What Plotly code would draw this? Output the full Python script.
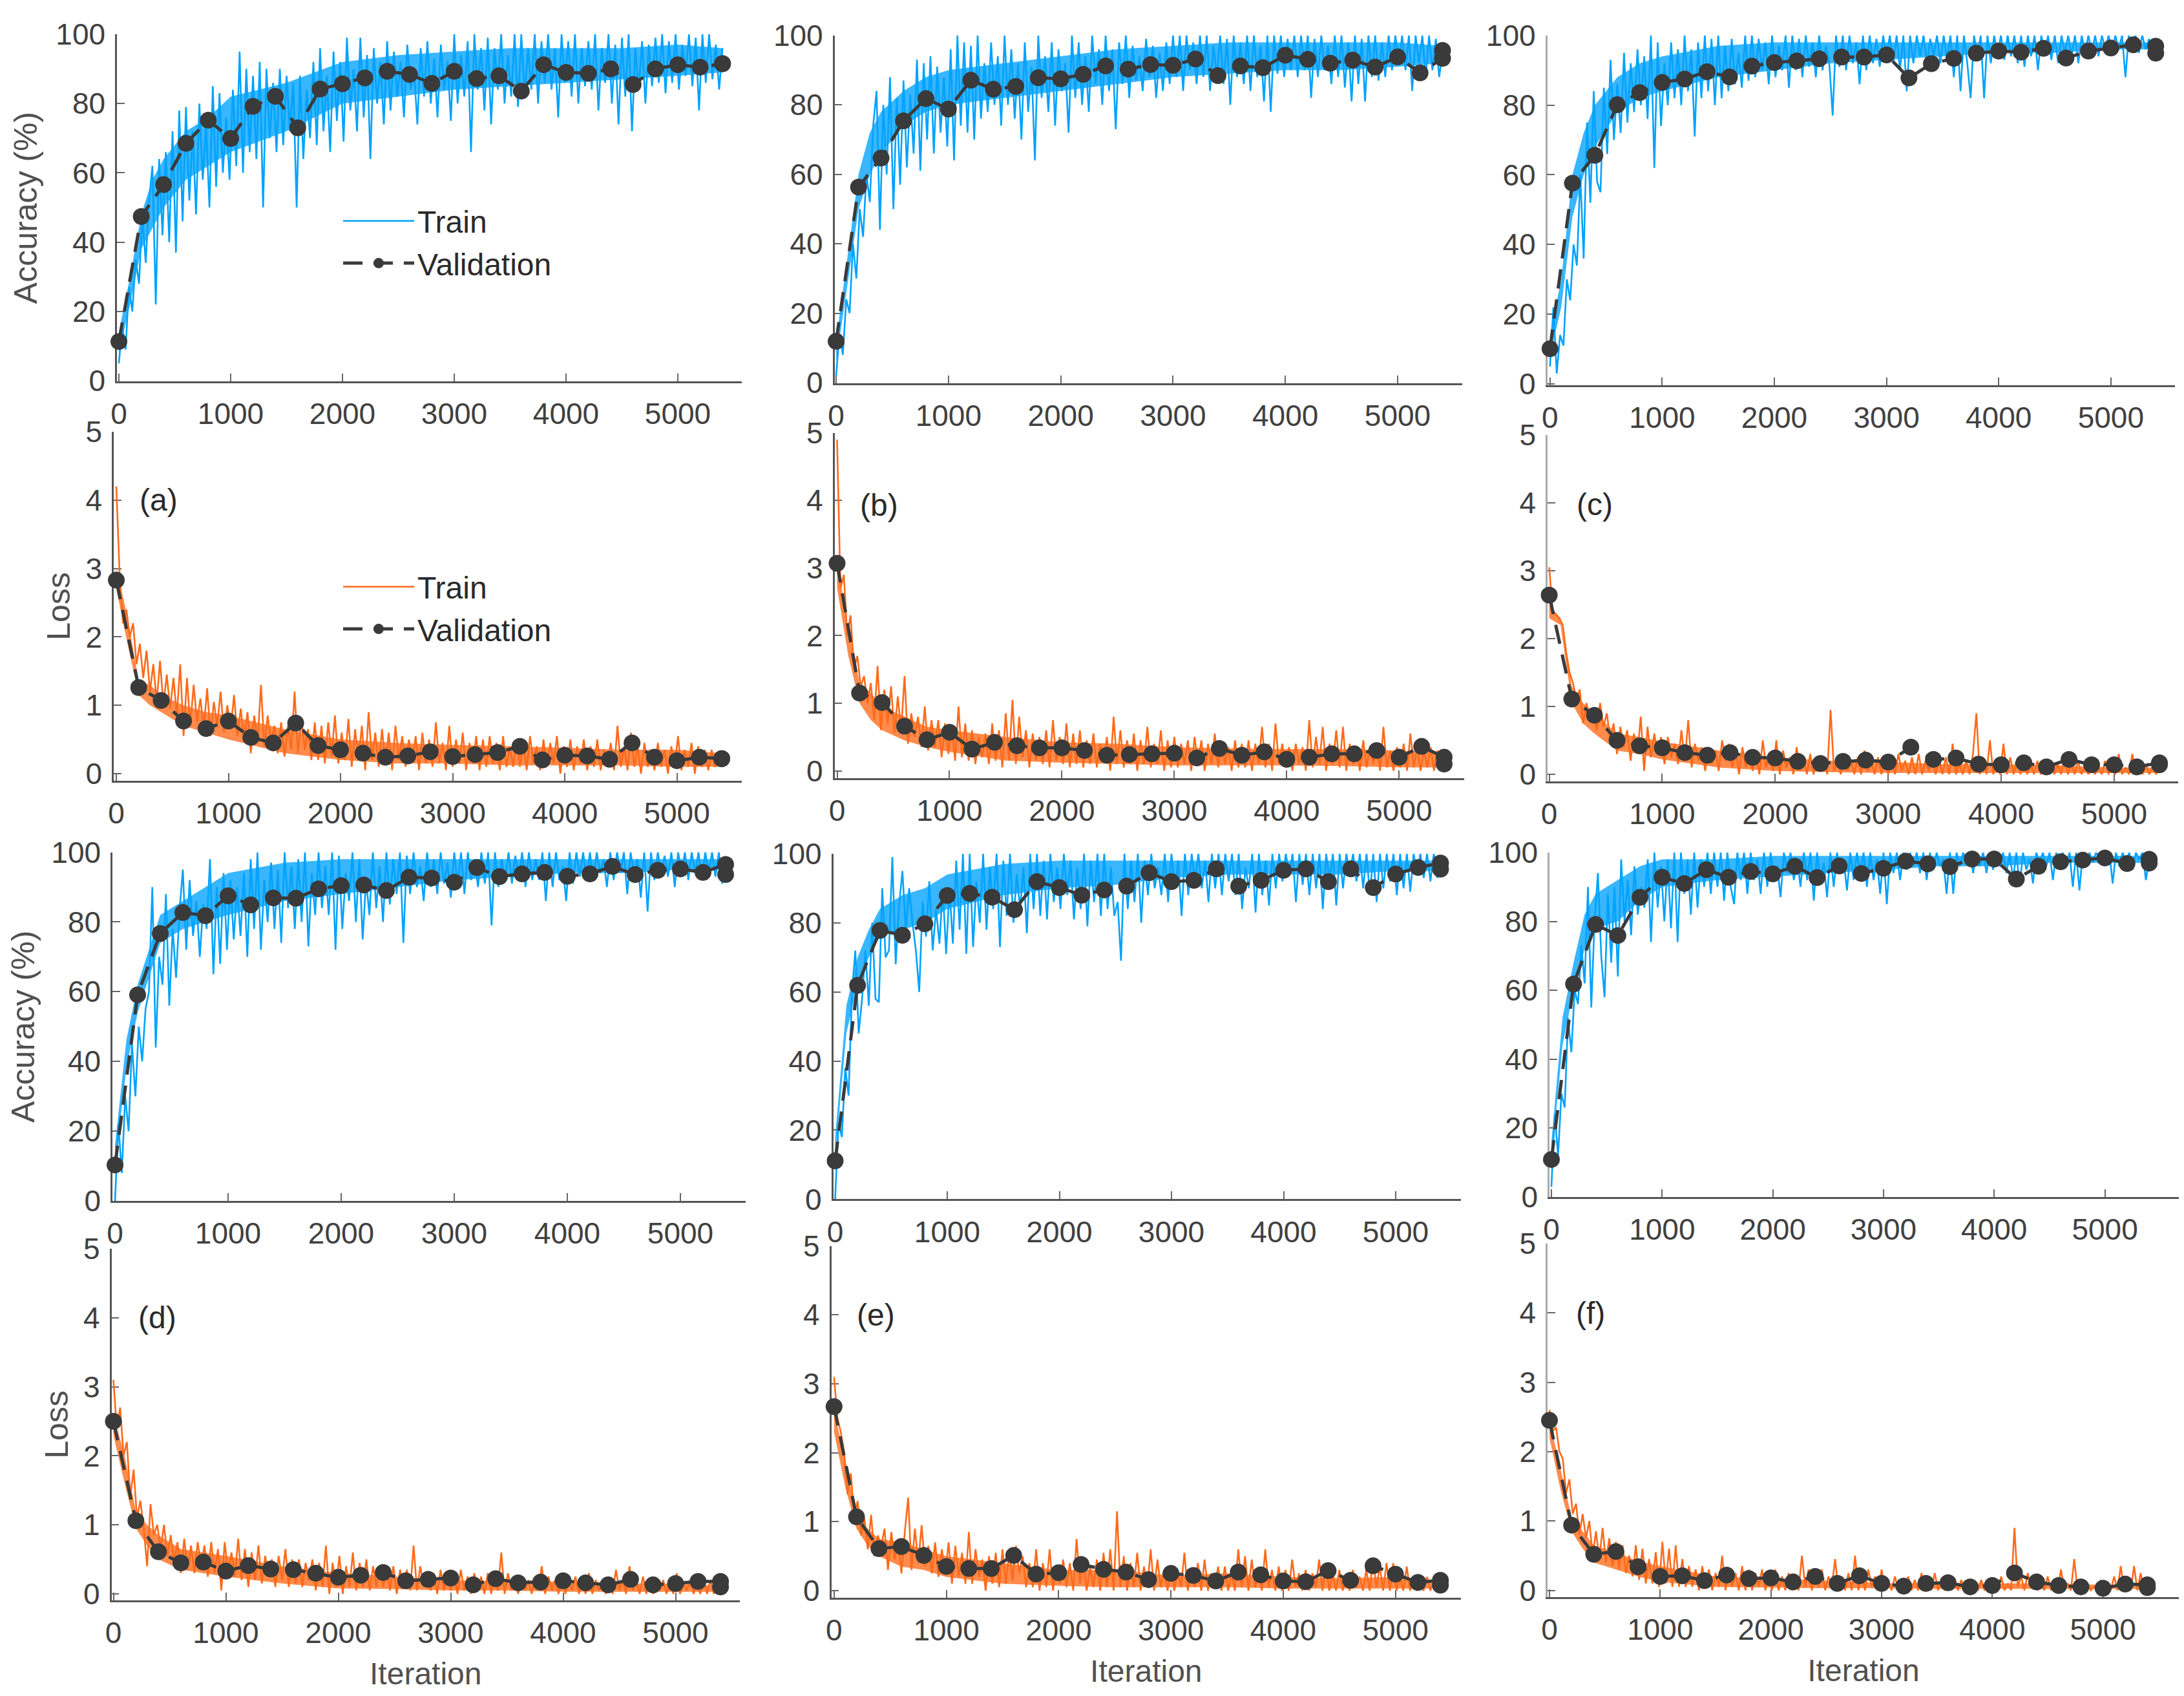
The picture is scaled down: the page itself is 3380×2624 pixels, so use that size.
import numpy as np
import plotly.graph_objects as go

# iterations of the validation runs (5400 comes twice, final validation)
val_iters = list(range(0, 5401, 200)) + [5400]

val_acc_a = [11.3,47.4,56.6,68.5,75.2,69.9,79.2,82.1,73,84.2,85.7,87.4,89.3,88.4,85.8,89.3,87.2,88,83.6,91.2,89,88.7,90,85.5,90,91.2,90.5,91.5,91.5]
val_loss_a = [2.83,1.26,1.07,.77,.66,.77,.53,.45,.74,.41,.35,.30,.24,.26,.32,.25,.28,.31,.40,.20,.27,.26,.21,.45,.24,.19,.24,.22,.22]
val_acc_b = [11.9,56.3,64.7,75.4,81.8,78.8,87.1,84.5,85.3,87.8,87.5,88.8,91.2,90.3,91.6,91.4,93.2,88.4,91.2,90.7,94.3,93.1,92,92.9,90.9,93.8,89.2,93.4,95.7]
val_loss_b = [3.07,1.15,1.01,.66,.46,.57,.32,.42,.37,.34,.34,.30,.23,.24,.25,.26,.19,.33,.23,.28,.17,.20,.25,.25,.30,.20,.36,.20,.10]
val_acc_c = [10.1,57.6,65.6,80.1,83.6,86.5,87.5,89.6,88.1,91.2,92.2,92.7,93.3,93.8,93.8,94.4,87.8,91.9,93.4,94.9,95.5,95.2,96.3,93.5,95.5,96.4,97.3,96.9,94.9]
val_loss_c = [2.64,1.11,.87,.50,.42,.39,.32,.28,.32,.25,.24,.19,.16,.19,.21,.18,.40,.22,.24,.15,.14,.17,.11,.22,.14,.14,.11,.17,.14]
val_acc_d = [10.3,59.1,76.7,82.7,81.8,87.5,84.9,86.9,86.8,89.5,90.4,90.6,89,92.8,92.6,91.4,95.6,93,93.8,94.2,93.1,93.8,95.9,93.6,94.8,95.2,94.2,96.5,93.6]
val_loss_d = [2.50,1.06,.61,.45,.46,.33,.41,.36,.35,.30,.24,.27,.31,.19,.21,.23,.13,.22,.16,.17,.19,.16,.13,.21,.13,.15,.18,.18,.10]
val_acc_e = [11.1,61.9,77.8,76.4,79.7,87.9,88.5,87.4,83.8,91.9,90.2,88,89.5,90.6,94.5,91.9,92.3,95.6,90.6,92.3,95.2,95.6,91.9,95.6,90.2,94.1,96,97.3,95.5]
val_loss_e = [2.67,1.07,.61,.64,.51,.35,.32,.32,.51,.24,.26,.38,.31,.27,.16,.25,.22,.14,.27,.23,.14,.13,.29,.15,.36,.24,.12,.15,.08]
val_acc_f = [10.9,61.8,79.1,75.9,87,92.8,91,95,92.8,94.5,93.8,96,92.7,96.1,93.9,95.4,97.5,96.7,95.9,98.1,98.1,92.3,96,97.3,97.8,98.4,96.8,98,96.9]
val_loss_f = [2.45,.94,.52,.56,.34,.20,.21,.14,.22,.17,.18,.12,.20,.10,.21,.10,.06,.10,.11,.05,.07,.25,.12,.07,.05,.03,.09,.08,.04]

# train curves, one row is about 600 iterations
train_acc_a = [5,16,9,27,20,35,28,48,34,52,62,22,64,42,66,40,72,37,78,46,
    79,52,72,48,80,58,74,50,85,56,83,60,76,58,84,62,95,60,90,66,
    88,64,92,50,90,70,86,66,90,68,88,72,86,50,88,64,84,70,92,68,
    96,72,88,66,95,75,92,69,99,78,90,72,99,76,94,64,96,80,92,74,
    98,78,95,82,92,76,97,84,90,74,96,82,98,80,93,76,97,84,92,75,
    100,80,94,82,98,66,100,84,96,78,99,74,96,84,100,80,94,82,100,79,
    100,82,96,84,100,80,98,86,100,84,96,76,100,86,98,82,100,80,96,85,
    98,84,100,78,96,86,100,80,97,74,99,82,100,72,96,84,98,80,97,85,
    99,86,100,83,98,86,100,84,97,88,100,85,99,78,100,86,100,87,97,84,96]
train_loss_a = [4.2,2.9,2.2,2.4,2.0,2.2,1.6,1.9,1.4,1.8,1.2,1.6,1.05,1.65,1.0,1.45,.95,1.4,.85,1.6,
    .55,1.4,.7,1.3,.75,1.1,.65,1.25,.55,1.05,.7,1.2,.6,1.0,.65,1.15,.55,.95,.5,.9,
    .3,.85,.45,1.3,.4,.85,.45,.7,.3,.75,.25,.7,.35,1.2,.3,.8,.35,.65,.2,.75,
    .2,.7,.15,.75,.25,.85,.15,.6,.2,.8,.1,.65,.2,.7,.05,.9,.2,.6,.1,.65,
    .15,.6,.05,.7,.2,.55,.1,.5,.2,.55,.05,.6,.15,.5,.1,.75,.15,.45,.05,.7,
    .1,.5,.15,.6,.05,.45,.15,.55,.05,.5,.1,.55,.15,.45,.05,.55,.1,.4,.1,.5,
    .1,.45,.05,.55,.15,.4,.05,.5,.1,.45,.15,.55,0,.4,.1,.5,.05,.4,.15,.5,
    .05,.4,.1,.5,.05,.35,.1,.45,.05,.7,.1,.4,.05,.6,.1,.4,0,.45,.1,.35,
    .05,.45,.1,.35,0,.4,.1,.55,.05,.35,.1,.45,0,.4,.1,.35,.05,.35,.1,.3,.15]
train_acc_b = [2,14,8,24,20,40,30,50,42,60,52,74,84,44,80,60,88,50,82,57,
    87,62,83,66,93,61,92,70,94,66,91,72,88,68,96,64,100,74,98,72,
    97,70,100,76,92,78,98,80,94,74,100,80,96,76,92,70,98,78,91,64,
    100,82,94,78,98,74,96,84,92,72,100,82,98,80,94,78,100,86,96,80,
    100,84,96,73,98,86,100,82,97,87,94,84,99,88,97,82,95,84,98,86,
    100,88,100,84,100,90,98,86,100,88,100,84,97,88,100,86,99,80,100,88,
    98,86,100,84,100,88,97,81,100,78,100,89,100,88,99,90,100,88,100,90,
    100,82,99,88,100,90,97,86,100,88,100,85,98,81,100,86,99,81,100,88,
    100,87,98,88,100,90,100,92,100,90,100,84,100,92,100,88,100,90,99,88,95]
train_loss_b = [4.9,2.7,2.9,2.0,2.3,1.5,1.7,1.25,1.4,1.0,1.3,.75,1.55,.6,1.2,.7,1.25,.55,1.1,.6,
    1.4,.4,.85,.5,.8,.35,.95,.3,.75,.35,.75,.2,.7,.25,.65,.15,.95,.2,.7,.15,
    .6,.1,.5,.2,.55,.1,.7,.15,.6,.05,.85,.15,1.05,.1,.8,.2,.6,.05,.55,.15,
    .5,.1,.6,.05,.75,.15,.5,.1,.7,.05,.55,.1,.6,.05,.45,.1,.55,.05,.4,.15,
    .5,0,.8,.1,.6,.05,.45,.1,.55,0,.45,.1,.65,.05,.4,.1,.6,0,.45,.05,
    .5,.05,.4,.1,.45,0,.5,.1,.45,0,.4,.1,.55,.05,.4,.1,.35,0,.45,.05,
    .4,.05,.45,0,.4,.1,.65,.05,.4,0,.7,.1,.4,.05,.35,0,.4,.1,.35,0,
    .75,.05,.5,.1,.65,0,.4,.1,.6,.05,.65,0,.4,.1,.35,0,.45,.05,.35,.1,
    .4,0,.65,.05,.3,0,.35,.05,.4,0,.55,.05,.35,0,.3,.05,.35,0,.3,0,.1]
train_acc_c = [5,22,3,14,11,30,24,40,34,60,36,75,52,84,58,55,85,66,93,70,
    86,72,95,75,92,78,96,80,94,76,100,62,98,74,92,80,98,82,96,80,
    100,84,96,71,98,82,100,84,99,80,100,82,97,84,99,86,95,85,100,87,
    100,88,99,90,98,86,100,88,97,90,100,85,100,90,99,88,100,91,98,88,
    100,90,97,92,77,100,91,100,90,100,92,98,86,100,90,100,92,99,91,100,
    94,100,92,100,90,100,84,100,92,100,94,100,92,99,94,100,92,100,93,100,
    88,100,84,100,92,82,100,94,100,82,100,92,100,94,100,93,100,94,100,92,
    100,91,100,94,100,90,100,95,100,93,100,92,100,95,100,94,100,92,100,95,
    100,95,100,94,100,96,100,95,100,96,100,88,100,96,100,95,100,96,99,95,97]
train_loss_c = [3.05,2.4,2.35,2.3,2.2,1.8,1.5,1.35,1.1,1.25,.75,1.05,.8,.95,.65,1.05,.7,.9,.5,.75,
    .3,.7,.4,.65,.2,.6,.3,.85,.05,.7,.25,.6,.3,.55,.15,.55,.25,.45,.15,.65,
    .2,.8,.1,.45,.2,.4,.05,.4,.15,.35,.05,.5,.2,.45,.1,.35,0,.4,.1,.3,
    .05,.3,0,.5,.1,.3,.05,.5,0,.35,.1,.25,0,.4,.05,.25,0,.3,0,.25,
    .05,.25,0,.95,.05,.2,0,.25,.05,.2,0,.25,0,.35,.05,.2,0,.25,0,.2,
    0,.25,0,.3,.05,.2,0,.25,0,.3,0,.2,.05,.25,0,.2,0,.25,0,.45,
    0,.15,0,.2,0,.3,.9,0,.25,0,.5,0,.2,0,.45,0,.25,0,.2,0,
    .2,0,.15,0,.2,0,.15,0,.2,0,.15,0,.25,0,.15,0,.2,0,.1,0,
    .1,0,.1,0,.2,0,.15,0,.3,0,.1,0,.3,0,.1,0,.15,0,.1,0,.1]
train_acc_d = [0,22,8,30,20,45,30,50,40,55,60,90,44,70,62,88,56,78,64,83,
    95,72,92,76,86,70,85,78,98,65,90,68,94,72,92,75,90,76,94,70,
    98,78,100,72,92,80,97,78,95,74,100,84,96,78,98,80,100,73,94,82,
    100,84,96,82,100,72,99,78,94,86,100,80,98,75,92,82,100,84,96,80,
    100,85,98,88,100,74,99,88,100,90,96,86,100,90,98,88,100,91,97,87,
    100,90,100,88,100,92,98,90,100,91,100,79,100,90,98,92,100,91,99,92,
    100,90,100,92,98,92,100,86,100,90,100,92,96,86,100,91,100,93,100,92,
    100,92,100,94,98,90,100,92,100,94,100,88,100,93,98,87,100,83,100,92,
    100,94,99,93,100,90,100,94,100,92,100,94,100,92,100,94,100,93,100,91,95]
train_loss_d = [3.1,2.4,2.7,2.0,2.2,1.4,1.8,1.1,1.35,.95,.4,1.3,.85,1.0,.65,1.0,.55,.85,.45,.75,
    .3,.8,.35,.7,.3,.75,.4,.7,.25,.75,.3,.65,.05,.75,.3,.6,.25,.8,.2,.65,
    .1,.6,.2,.7,.15,.55,.25,.5,.1,.55,.2,.65,.1,.5,.15,.5,.1,.45,.2,.5,
    .05,.45,.1,.7,0,.45,.1,.55,0,.4,.1,.6,.05,.45,.1,.5,.05,.4,.1,.4,
    .1,.35,.05,.4,0,.35,.1,.35,.05,.7,.05,.4,.1,.3,.05,.3,0,.35,.05,.3,
    .05,.3,0,.35,.05,.25,0,.3,.05,.25,0,.3,0,.25,.05,.6,0,.3,.05,.2,
    0,.25,.05,.2,0,.25,.05,.4,0,.25,.05,.2,0,.3,0,.2,.05,.25,0,.2,
    0,.3,0,.2,.05,.15,0,.25,0,.35,.05,.2,0,.4,.05,.2,0,.25,0,.2,
    0,.15,.05,.2,0,.2,0,.3,0,.15,.05,.2,0,.15,0,.2,0,.2,0,.2,0]
train_acc_e = [0,22,18,38,30,60,72,48,58,72,56,80,58,57,90,70,72,99,68,85,
    95,78,90,80,72,60,86,76,92,72,84,74,90,71,90,74,98,78,100,71,
    100,73,92,80,100,78,96,84,100,73,98,82,100,80,94,84,96,77,100,84,
    100,82,98,81,100,86,96,84,100,88,98,81,96,84,100,79,98,86,100,82,
    100,84,96,82,86,69,100,84,98,86,100,80,98,88,100,90,96,88,100,86,
    100,90,98,82,100,88,100,92,100,90,98,86,100,90,100,88,100,92,100,88,
    100,84,96,90,100,83,100,88,98,85,100,90,100,92,100,94,100,86,100,91,
    100,88,100,90,100,84,100,92,100,85,100,90,100,94,100,92,100,90,100,88,
    100,86,100,90,100,92,100,88,100,90,100,89,100,94,100,93,100,92,100,93,96]
train_loss_e = [3.1,2.5,2.3,2.0,1.4,1.7,1.05,1.3,.8,1.05,.6,1.1,.5,.8,.65,.9,.3,.85,.45,.75,
    .25,.85,1.35,.3,.9,.4,.95,.35,.65,.25,.7,.2,.6,.25,.7,.1,.65,.2,.55,.1,
    .85,.1,.6,.2,.45,0,.5,.1,.55,.05,.6,.1,.55,.15,.65,.25,.5,.05,.4,.05,
    .6,0,.4,.05,.6,0,.35,.1,.45,.05,.4,0,.75,.1,.4,0,.35,.05,.45,0,
    .55,.05,.6,0,1.15,.05,.5,0,.4,.05,.55,0,.35,.05,.6,0,.45,.05,.3,0,
    .35,0,.3,.05,.55,0,.3,.05,.4,0,.45,0,.25,.05,.35,0,.35,0,.25,0,
    .6,.05,.5,0,.45,.05,.3,0,.6,.05,.3,0,.35,0,.3,0,.45,.05,.25,0,
    .3,0,.25,.05,.45,0,.4,0,.25,0,.3,0,.2,0,.3,.05,.2,0,.3,0,
    .45,.05,.35,0,.4,0,.4,0,.2,0,.35,0,.15,0,.15,0,.2,0,.15,0,.1]
train_acc_f = [3,24,12,30,26,52,42,60,56,73,62,90,55,80,94,70,58,88,68,90,
    64,98,80,92,76,96,82,90,84,98,74,100,84,96,80,98,78,100,74,100,
    88,98,82,100,84,98,90,100,88,100,90,100,86,100,90,85,100,92,100,88,
    100,92,98,88,100,90,100,93,96,87,100,94,100,92,98,90,100,92,100,86,
    100,92,97,87,100,90,100,94,98,89,100,92,100,94,100,90,100,92,98,88,
    100,85,100,94,100,92,100,95,100,96,100,94,100,92,100,95,100,96,98,88,
    100,88,100,96,100,97,100,94,100,96,100,94,100,95,100,96,100,94,100,92,
    100,90,100,95,98,91,100,97,100,96,100,92,100,97,100,96,100,90,100,89,
    100,96,100,97,100,98,100,97,100,91,100,96,100,97,100,95,100,98,100,92,98]
train_loss_f = [2.6,2.3,2.35,2.0,1.9,1.4,1.6,1.1,1.25,.8,1.1,.75,1.0,.5,.85,.45,.9,.4,.75,.35,
    .7,.3,.65,.25,.5,.2,.65,.15,.6,.1,.45,.1,.55,.05,.7,.1,.6,.05,.65,.05,
    .45,.05,.35,.05,.3,0,.35,.05,.3,0,.25,.05,.5,0,.3,.05,.25,0,.35,0,
    .3,0,.25,.05,.3,0,.25,0,.3,0,.2,0,.25,0,.2,0,.5,.05,.3,0,
    .25,.05,.3,0,.2,.05,.45,0,.2,0,.25,0,.5,0,.25,0,.3,.05,.2,0,
    .3,0,.15,0,.2,0,.1,0,.2,0,.15,0,.25,0,.15,0,.25,0,.15,0,
    .2,0,.15,0,.15,0,.1,0,.1,0,.15,0,.1,0,.1,0,.2,0,.1,0,
    .9,.05,.2,0,.25,.05,.15,0,.1,0,.2,0,.15,0,.3,0,.1,0,.45,0,
    .1,0,.1,0,.05,0,.15,0,.1,0,.2,0,.35,0,.1,0,.35,0,.25,0,.1]

# solid core of each train band (lower and upper edge)
core_iters = [0,100,200,300,400,600,800,1000,1500,2000,2500,3000,3500,4000,4500,5000,5400]
core_acc_a = ([8,22,38,44,50,58,62,66,72,80,82,84,85,86,87,88,89], [14,30,48,58,64,72,76,82,86,92,94,95,96,96,96,97,96])
core_acc_b = ([6,28,50,60,66,74,78,80,82,84,86,88,89,90,90,91,92], [12,36,60,72,78,84,88,90,92,94,96,97,98,98,98,98,97])
core_acc_c = ([8,22,48,60,68,78,82,84,88,90,92,93,94,95,95,96,96], [14,30,60,72,80,88,92,94,97,98,98,98,98,98,98,98,98])
core_acc_d = ([10,38,54,64,74,78,80,82,86,88,90,92,93,94,94,95,95], [16,46,62,72,82,86,90,94,97,98,98,98,98,98,98,98,98])
core_acc_e = ([12,48,62,70,76,78,80,84,88,90,91,93,94,94,94,95,95], [18,56,70,78,84,88,90,94,97,98,98,98,98,98,98,98,98])
core_acc_f = ([10,44,60,72,78,80,86,90,92,93,94,95,96,96,97,97,97], [16,52,68,82,88,92,96,98,98,99,99,99,99,99,99,99,99])
core_loss_a = ([2.7,1.9,1.15,1.0,.9,.7,.6,.5,.3,.2,.15,.15,.12,.12,.12,.1,.1], [3.0,2.3,1.35,1.3,1.15,1.0,.9,.85,.65,.5,.45,.42,.4,.38,.35,.35,.3])
core_loss_b = ([2.7,1.7,1.0,.75,.6,.45,.35,.28,.15,.12,.1,.08,.08,.08,.07,.05,.05], [3.1,2.1,1.3,1.15,.95,.8,.65,.6,.5,.42,.4,.35,.33,.32,.32,.3,.28])
core_loss_c = ([2.3,2.2,1.05,.75,.6,.35,.3,.22,.1,.05,.03,.02,.02,.02,.02,.02,.02], [2.5,2.3,1.3,1.05,.9,.6,.55,.48,.35,.25,.2,.18,.15,.15,.13,.1,.1])
core_loss_d = ([2.3,1.6,.95,.7,.5,.35,.3,.25,.15,.08,.07,.05,.05,.03,.03,.03,.03], [2.6,2.0,1.2,1.0,.85,.65,.6,.55,.4,.3,.25,.2,.18,.18,.15,.15,.12])
core_loss_e = ([2.3,1.5,.9,.65,.5,.35,.3,.2,.1,.07,.05,.05,.05,.03,.03,.03,.03], [2.6,1.9,1.1,.9,.75,.7,.6,.5,.4,.3,.3,.22,.25,.2,.18,.2,.12])
core_loss_f = ([2.2,1.45,.85,.6,.4,.3,.2,.12,.05,.04,.03,.03,.02,.02,.02,.02,.02], [2.45,1.75,1.05,.85,.65,.55,.42,.35,.2,.17,.14,.1,.1,.1,.1,.08,.08])

acc_ticks = [0, 20, 40, 60, 80, 100]
loss_ticks = [0, 1, 2, 3, 4, 5]
iter_ticks = [0, 1000, 2000, 3000, 4000, 5000]

# the page keeps its default 8px body margin, so the figure is 8px smaller and pixels shift by 8
PAGE = 8
W, H = 3380 - PAGE, 2624 - PAGE
BLUE = "#00a2ff"
ORANGE = "#ff6a1a"
BLUE_CORE = "rgba(0,162,255,0.78)"
ORANGE_CORE = "rgba(255,106,26,0.78)"
DARK = "#3a3a3a"
TXT = "#404040"
FONT = "Liberation Sans"

# pixel frames: left, right, x of tick 0, x of tick 5000, y of top tick, y of tick 0, y of axis, spine colour
panels = [
    ("acc", train_acc_a, core_acc_a, val_acc_a, 181, 1148, 184, 1049, 53, 589, 590, "#555555"),
    ("loss", train_loss_a, core_loss_a, val_loss_a, 176, 1148, 180, 1047.6, 668, 1197, 1208, "#555555"),
    ("acc", train_acc_b, core_acc_b, val_acc_b, 1291.6, 2263, 1294, 2163, 54.8, 592, 592.5, "#555555"),
    ("loss", train_loss_b, core_loss_b, val_loss_b, 1291.6, 2266, 1295.5, 2165.4, 669.8, 1192.5, 1203.6, "#555555"),
    ("acc", train_acc_c, core_acc_c, val_acc_c, 2394.5, 3365.7, 2398.8, 3266.8, 54.8, 594, 596, "#aaaaaa"),
    ("loss", train_loss_c, core_loss_c, val_loss_c, 2395, 3371, 2397.6, 3272, 673, 1198, 1208.7, "#aaaaaa"),
    ("acc", train_acc_d, core_acc_d, val_acc_d, 174, 1154, 178, 1053, 1318.5, 1858, 1858, "#555555"),
    ("loss", train_loss_d, core_loss_d, val_loss_d, 172.5, 1145, 175.5, 1045.5, 1932, 2466, 2476, "#555555"),
    ("acc", train_acc_e, core_acc_e, val_acc_e, 1289.5, 2261, 1292.5, 2160, 1320.8, 1855.4, 1855.4, "#555555"),
    ("loss", train_loss_e, core_loss_e, val_loss_e, 1286.6, 2261, 1290.8, 2159.7, 1927.7, 2461, 2471.6, "#555555"),
    ("acc", train_acc_f, core_acc_f, val_acc_f, 2398, 3374, 2401, 3257.6, 1318.9, 1852, 1852, "#aaaaaa"),
    ("loss", train_loss_f, core_loss_f, val_loss_f, 2395, 3373, 2398, 3254.7, 1924, 2460.5, 2470.7, "#aaaaaa"),
]

panel_labels = {1: ("(a)", 375, 4.0), 3: ("(b)", 376, 3.93), 5: ("(c)", 402, 3.98),
                7: ("(d)", 388, 4.0), 9: ("(e)", 375, 4.0), 11: ("(f)", 373, 4.0)}

fig = go.Figure()
for i, (kind, train, core, val, left, right, x0, x5k, top, y0, bottom, spine) in enumerate(panels):
    n = i + 1
    ax = "" if n == 1 else str(n)
    ymax = 100 if kind == "acc" else 5
    ticks = acc_ticks if kind == "acc" else loss_ticks
    color = BLUE if kind == "acc" else ORANGE
    kx = (x5k - x0) / 5000
    ky = (y0 - top) / ymax
    legend_name = "legend" if n == 1 else "legend2"
    fig.add_trace(go.Scatter(
        x=core_iters + core_iters[::-1], y=core[0] + core[1][::-1], mode="lines", fill="toself",
        fillcolor=BLUE_CORE if kind == "acc" else ORANGE_CORE, line=dict(width=0),
        hoverinfo="skip", showlegend=False, xaxis="x" + ax, yaxis="y" + ax))
    fig.add_trace(go.Scatter(
        x=np.linspace(0, 5400, len(train)), y=train, mode="lines", name="Train",
        line=dict(color=color, width=2.6),
        xaxis="x" + ax, yaxis="y" + ax, legend=legend_name, showlegend=n in (1, 2)))
    fig.add_trace(go.Scatter(
        x=val_iters, y=val, mode="lines+markers", name="Validation", cliponaxis=False,
        line=dict(color=DARK, width=5, dash="30px,17px"),
        marker=dict(color=DARK, size=26),
        xaxis="x" + ax, yaxis="y" + ax, legend=legend_name, showlegend=n in (1, 2)))

    # left column has the y titles, bottom row the x title
    ytitle = None
    if n in (1, 7):
        ytitle = "Accuracy (%)"
    elif n in (2, 8):
        ytitle = "Loss"
    xtitle = "Iteration" if n in (8, 10, 12) else None

    fig.update_layout(**{
        "xaxis" + ax: dict(
            domain=[(left - PAGE) / W, (right - PAGE) / W], anchor="y" + ax, automargin=False,
            range=[(left - x0) / kx, (right - x0) / kx],
            tickmode="array", tickvals=iter_ticks, ticktext=[str(t) for t in iter_ticks],
            ticks="inside", ticklen=12, tickwidth=2, tickcolor="#666666",
            ticklabelstandoff=8, showgrid=False, zeroline=False,
            showline=True, linecolor="#555555", linewidth=3, layer="below traces",
            tickfont=dict(family=FONT, size=46, color=TXT),
            title=dict(text=xtitle, font=dict(family=FONT, size=48, color="#505050"), standoff=22) if xtitle else None),
        "yaxis" + ax: dict(
            domain=[1 - (bottom - PAGE) / H, 1 - (top - PAGE) / H], anchor="x" + ax, automargin=False,
            range=[(y0 - bottom) / ky, ymax],
            tickmode="array", tickvals=ticks, ticktext=[str(t) for t in ticks],
            ticks="inside", ticklen=12, tickwidth=2, tickcolor="#666666",
            ticklabelstandoff=6, showgrid=False, zeroline=False,
            showline=True, linecolor=spine, linewidth=2.5, layer="below traces",
            tickfont=dict(family=FONT, size=46, color=TXT),
            title=dict(text=ytitle, font=dict(family=FONT, size=50, color="#505050"),
                       standoff=13 if kind == "acc" else 8) if ytitle else None),
    })

notes = []
for n, (text, x, y) in panel_labels.items():
    loss_n = n + 1
    notes.append(dict(text=text, x=x, y=y, xref=f"x{loss_n}", yref=f"y{loss_n}", showarrow=False,
                      xanchor="center", yanchor="middle", font=dict(family=FONT, size=48, color="#2a2a2a")))

legend_style = dict(bgcolor="rgba(0,0,0,0)", itemwidth=110, xanchor="left", yanchor="top",
                    tracegroupgap=0, font=dict(family=FONT, size=48, color="#2a2a2a"))

fig.update_layout(
    width=W, height=H, autosize=False, showlegend=True,
    margin=dict(l=0, r=0, t=0, b=0),
    paper_bgcolor="white", plot_bgcolor="white",
    annotations=notes,
    legend=dict(x=(526 - PAGE) / W, y=1 - (304 - PAGE) / H, **legend_style),
    legend2=dict(x=(526 - PAGE) / W, y=1 - (870 - PAGE) / H, **legend_style),
)

fig.write_html("out.html")
